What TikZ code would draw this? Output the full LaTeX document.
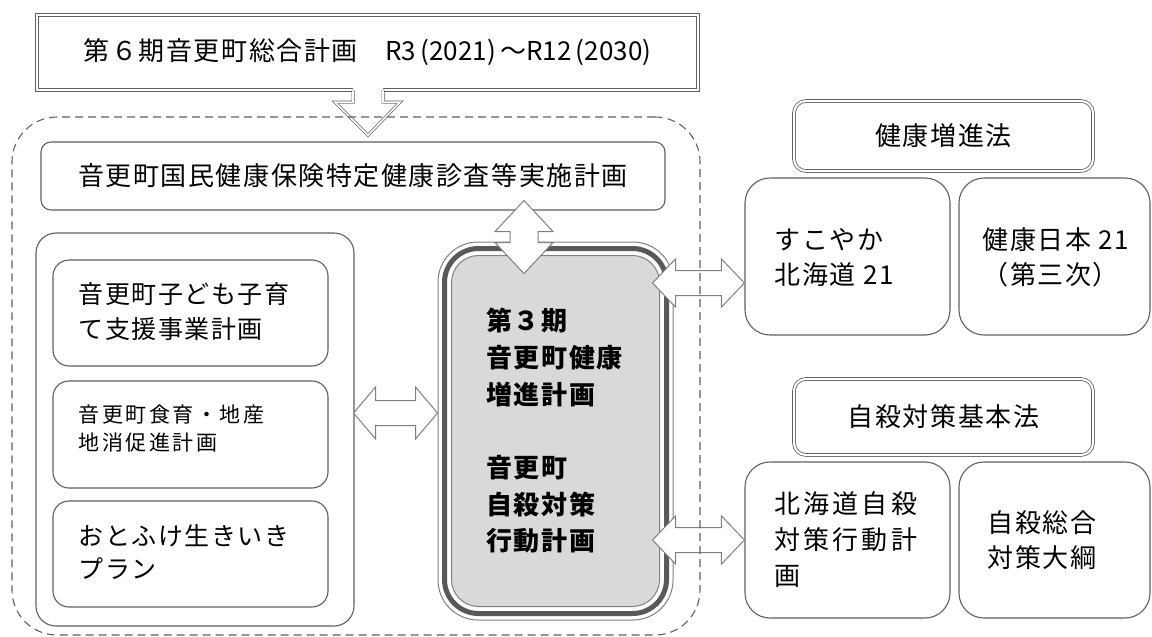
\documentclass[tikz,border=0pt]{standalone}
\usepackage{fontspec}
\newfontfamily\jpA[LetterSpace=6]{Noto Sans CJK JP}
\newfontfamily\jpB[LetterSpace=12]{Noto Sans CJK JP}
\newfontfamily\jpN{Noto Sans CJK JP}
\usetikzlibrary{calc}
\definecolor{ln}{HTML}{606060}
\definecolor{al}{HTML}{808080}
\definecolor{cfill}{HTML}{D9D9D9}
\definecolor{bandc}{HTML}{595959}
\tikzset{
  rbox/.style={draw=ln, line width=1.1pt, rounded corners=#1, inner sep=0pt, fill=white},
  rbox/.default=16pt,
  dbox/.style={draw=ln, double=white, double distance=2pt, line width=0.8pt, inner sep=0pt, fill=white},
  blockarrow/.style={draw=al, line width=1pt, fill=white, line join=miter},
  txt/.style={inner sep=0pt, align=left, text=black},
  grpline/.style={draw=ln, line width=1.1pt, dash pattern=on 8pt off 5pt, rounded corners=45pt, inner sep=0pt},
}
\newcommand{\hdarrow}[5]{%
  \draw[blockarrow] (#1) -- ($(#1)+(#3,-#4)$) -- ($(#1)+(#3,-#5)$) -- ($(#2)+(-#3,-#5)$) -- ($(#2)+(-#3,-#4)$) -- (#2)
    -- ($(#2)+(-#3,#4)$) -- ($(#2)+(-#3,#5)$) -- ($(#1)+(#3,#5)$) -- ($(#1)+(#3,#4)$) -- cycle;}
\newcommand{\vdarrow}[5]{%
  \draw[blockarrow] (#1) -- ($(#1)+(#4,#3)$) -- ($(#1)+(#5,#3)$) -- ($(#2)+(#5,-#3)$) -- ($(#2)+(#4,-#3)$) -- (#2)
    -- ($(#2)+(-#4,-#3)$) -- ($(#2)+(-#5,-#3)$) -- ($(#1)+(-#5,#3)$) -- ($(#1)+(-#4,#3)$) -- cycle;}
\begin{document}
\begin{tikzpicture}[x=1pt,y=-1pt]
\useasboundingbox (0,0) rectangle (1152,637);

% top plan box
\node[dbox, minimum width=661pt, minimum height=75pt, font=\fontsize{26}{30}\selectfont] (plan) at (367.5,52.5)
  {{\jpA 第６期音更町総合計画　}{\jpN R3\,(2021)\,}{\jpA ～}{\jpN R12\,(2030)}};

% down arrow from plan
\coordinate (dtip) at ($(plan.south)+(0.5,44.8)$);
\fill[white] ($(plan.south)+(-14.5,-4)$) rectangle ($(plan.south)+(15.5,3)$);
\draw[draw=ln, double=white, double distance=1.6pt, line width=0.7pt, line join=miter]
  ($(plan.south)+(-14.5,0)$) -- ($(plan.south)+(-14.5,11.8)$) -- ($(plan.south)+(-32.5,11.8)$) -- (dtip)
  -- ($(plan.south)+(32.5,11.8)$) -- ($(plan.south)+(15.5,11.8)$) -- ($(plan.south)+(15.5,0)$);

% kokuho box
\node[rbox=10pt, minimum width=624pt, minimum height=68pt, font=\fontsize{26}{30}\selectfont\jpA] (kokuho) at (353,176)
  {音更町国民健康保険特定健康診査等実施計画};

% left group
\node[rbox=20pt, minimum width=318pt, minimum height=393pt] (leftgrp) at (195,429.5) {};
\node[rbox=16pt, minimum width=275pt, minimum height=106pt] (b1) at (190.5,313) {};
\node[rbox=16pt, minimum width=275pt, minimum height=107pt] (b2) at (190.5,434.5) {};
\node[rbox=16pt, minimum width=275pt, minimum height=106pt] (b3) at (190.5,554) {};
\node[txt, anchor=west, font=\fontsize{25}{35}\selectfont\jpA] (b1t) at ($(b1.west)+(26,-1.5)$) {音更町子ども子育\\て支援事業計画};
\node[txt, anchor=west, font=\fontsize{21}{28}\selectfont\jpB] (b2t) at ($(b2.west)+(26,-6)$) {音更町食育・地産\\地消促進計画};
\node[txt, anchor=west, font=\fontsize{25}{33}\selectfont\jpA] (b3t) at ($(b3.west)+(26,-1.5)$) {おとふけ生きいき\\プラン};

% center box (triple border)
\node[draw=al, line width=1pt, rounded corners=40pt, minimum width=235pt, minimum height=378pt, fill=white, inner sep=0pt] (cbox) at (555.5,431) {};
\draw[bandc, line width=5pt, rounded corners=34pt] ($(cbox.south west)+(7,-7)$) rectangle ($(cbox.north east)+(-7,7)$);
\draw[draw=al, line width=1pt, fill=cfill, rounded corners=27pt] ($(cbox.south west)+(14,-14)$) rectangle ($(cbox.north east)+(-14,14)$);
\node[txt, font=\fontsize{26}{36.7}\selectfont\jpA\bfseries] (ctext) at ($(cbox.center)+(-1,0)$)
  {第３期\\音更町健康\\増進計画\\[36.7pt]音更町\\自殺対策\\行動計画};

% right side
\node[dbox, rounded corners=12pt, minimum width=299pt, minimum height=70pt, font=\fontsize{26}{30}\selectfont\jpA] (law1) at (943.5,136) {健康増進法};
\node[rbox=25pt, minimum width=205pt, minimum height=157pt] (sukoyaka) at (847.5,256.5) {};
\node[rbox=25pt, minimum width=191pt, minimum height=157pt] (nihon) at (1054.5,256.5) {};
\node[txt, anchor=west, font=\fontsize{26}{35}\selectfont\jpA] (sukoyakat) at ($(sukoyaka.west)+(30,1)$) {すこやか\\北海道 21};
\node[txt, anchor=west, font=\fontsize{26}{35}\selectfont\jpA] (nihont) at ($(nihon.west)+(24,1)$) {健康日本 21\\（第三次）};

\node[dbox, rounded corners=12pt, minimum width=299pt, minimum height=76pt, font=\fontsize{26}{30}\selectfont\jpA] (law2) at (943.5,417) {自殺対策基本法};
\node[rbox=25pt, minimum width=205pt, minimum height=156pt] (hokkaido) at (847.5,540) {};
\node[rbox=25pt, minimum width=191pt, minimum height=156pt] (taikou) at (1054.5,540) {};
\node[txt, anchor=west, font=\fontsize{26}{36}\selectfont\jpB] (hokkaidot) at ($(hokkaido.west)+(30,0)$) {北海道自殺\\対策行動計\\画};
\node[txt, anchor=west, font=\fontsize{26}{35}\selectfont\jpA] (taikout) at ($(taikou.west)+(29,0)$) {自殺総合\\対策大綱};

% block arrows
\coordinate (va1) at ($(kokuho.south)+(171,-10)$);
\coordinate (va2) at ($(va1)+(0,73)$);
\vdarrow{va1}{va2}{31}{29}{14}

\coordinate (ma1) at ($(leftgrp.east)+(-1,-16.5)$);
\coordinate (ma2) at (cbox.west |- ma1);
\hdarrow{ma1}{ma2}{22}{26}{12.5}

\coordinate (ua2) at (sukoyaka.west |- 0,283);
\coordinate (ua1) at ($(cbox.east |- ua2)+(-21,0)$);
\hdarrow{ua1}{ua2}{23}{24}{12.5}

\coordinate (la2) at (hokkaido.west);
\coordinate (la1) at ($(cbox.east |- la2)+(-21,0)$);
\hdarrow{la1}{la2}{23}{24}{12.5}

% dashed group
\node[grpline, minimum width=688pt, minimum height=518pt] (grp) at (356,376) {};
\end{tikzpicture}
\end{document}
